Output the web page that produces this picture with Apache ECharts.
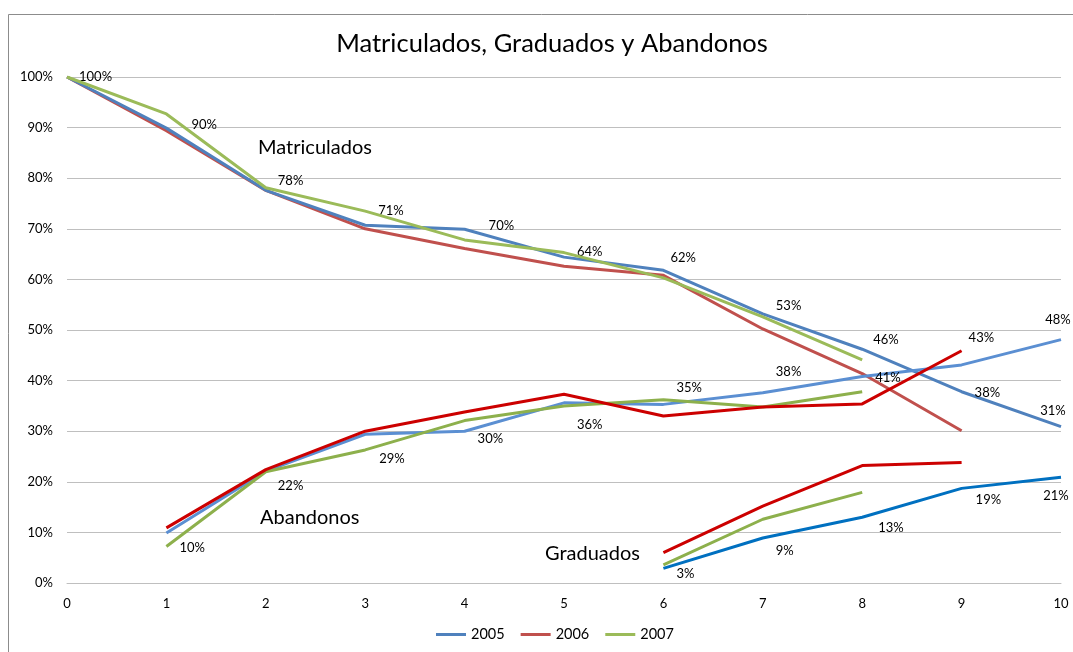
<!DOCTYPE html>
<html>
<head>
<meta charset="utf-8">
<script src="https://cdn.jsdelivr.net/npm/echarts@6/dist/echarts.min.js"></script>
<style>html,body{margin:0;padding:0;background:#fff;}#c{width:1073px;height:652px;}</style>
</head>
<body>
<div id="c"></div>
<script>
// ---- data ----
const xValues = [0, 1, 2, 3, 4, 5, 6, 7, 8, 9, 10];
const yTicks = [0, 10, 20, 30, 40, 50, 60, 70, 80, 90, 100];
const legendNames = ['2005', '2006', '2007'];
const matriculados2005 = [100, 89.9, 77.6, 70.7, 69.9, 64.4, 61.8, 53.2, 46.2, 37.8, 30.9];
const matriculados2006 = [100, 89.4, 77.6, 70.0, 66.1, 62.6, 60.8, 50.2, 41.4, 30.1, null];
const matriculados2007 = [100, 92.7, 78.1, 73.5, 67.8, 65.3, 60.3, 52.6, 44.1, null, null];
const abandonos2005 = [null, 9.9, 22.1, 29.4, 30.0, 35.6, 35.3, 37.6, 40.8, 43.1, 48.1];
const abandonos2006 = [null, 10.9, 22.4, 30.0, 33.8, 37.3, 33.0, 34.8, 35.4, 45.9, null];
const abandonos2007 = [null, 7.2, 22.0, 26.3, 32.1, 35.0, 36.2, 34.8, 37.8, null, null];
const graduados2005 = [null, null, null, null, null, null, 2.9, 8.9, 13.0, 18.7, 20.9];
const graduados2006 = [null, null, null, null, null, null, 6.0, 15.2, 23.2, 23.8, null];
const graduados2007 = [null, null, null, null, null, null, 3.6, 12.6, 17.9, null, null];

// ---- label layout (mode, dx, dy) : r = right of point, c = centred on point ----
const matLabelLayout = [['r',12,0],['r',25,-3],['r',12,-10],['r',13,-14],['r',24,-3],['r',13,-5],['r',7,-12],['r',13,-8],['r',11,-9],['r',13,1],['c',-8,-16]];
const abaLabelLayout = [null,['r',13,15],['r',12,15],['r',14,25],['r',13,8],['r',13,22],['r',13,-17],['r',13,-21],['r',13,1],['r',7,-27],['c',-3,-20]];
const graLabelLayout = [null,null,null,null,null,null,['r',13,5],['r',13,13],['r',16,11],['r',14,11],['c',-5,19]];

const FONT = 'Lato, "Open Sans", sans-serif';

function build(values, layout) {
  const out = [];
  values.forEach(function (v, i) {
    if (v === null) return;
    const item = { value: [xValues[i], v] };
    if (layout && layout[i]) {
      const L = layout[i];
      item.label = {
        show: true,
        position: L[0] === 'r' ? 'right' : 'inside',
        distance: 0,
        offset: [L[1], L[2]],
        formatter: Math.round(v) + '%',
        color: '#000',
        fontSize: 13,
        fontFamily: FONT
      };
    }
    out.push(item);
  });
  return out;
}

function line(name, color, values, layout, z) {
  return {
    name: name,
    type: 'line',
    data: build(values, layout),
    symbol: 'circle',
    symbolSize: 0.01,
    showSymbol: true,
    itemStyle: { color: color },
    lineStyle: { color: color, width: 3 },
    label: { show: false },
    emphasis: { disabled: true },
    silent: true,
    animation: false,
    z: z || 2
  };
}

const chart = echarts.init(document.getElementById('c'), null, { renderer: 'canvas' });
chart.setOption({
  backgroundColor: '#fff',
  animation: false,
  title: {
    text: 'Matriculados, Graduados y Abandonos',
    left: 547,
    top: 26,
    textAlign: 'center',
    textStyle: { fontFamily: FONT, fontSize: 25.5, fontWeight: 'normal', color: '#000' }
  },
  legend: {
    data: legendNames,
    left: 436,
    top: 627,
    padding: 0,
    icon: 'rect',
    itemWidth: 30,
    itemHeight: 3,
    itemGap: 16,
    textStyle: { fontFamily: FONT, fontSize: 14.5, color: '#000' }
  },
  grid: { left: 67, right: 12, top: 77, bottom: 69 },
  xAxis: {
    type: 'value',
    min: 0, max: 10, interval: 1,
    axisLine: { show: true, lineStyle: { color: '#bfbfbf', width: 1 } },
    axisTick: { show: false },
    splitLine: { show: false },
    axisLabel: { color: '#000', fontSize: 13, fontFamily: FONT, margin: 14 }
  },
  yAxis: {
    type: 'value',
    min: yTicks[0], max: yTicks[yTicks.length - 1], interval: 10,
    axisLine: { show: false },
    axisTick: { show: false },
    splitLine: { lineStyle: { color: '#bfbfbf', width: 1 } },
    axisLabel: { color: '#000', fontSize: 13, fontFamily: FONT, margin: 14, formatter: '{value}%' }
  },
  graphic: [
    { type: 'rect', shape: { x: 8.5, y: 14.5, width: 1200, height: 800 }, style: { fill: 'none', stroke: '#8c8c8c', lineWidth: 1 }, silent: true, z: -1 },
    { type: 'text', left: 258, top: 138, style: { text: 'Matriculados', fontFamily: FONT, fontSize: 20, fill: '#000' } },
    { type: 'text', left: 260, top: 508, style: { text: 'Abandonos', fontFamily: FONT, fontSize: 20, fill: '#000' } },
    { type: 'text', left: 545, top: 544, style: { text: 'Graduados', fontFamily: FONT, fontSize: 20, fill: '#000' } }
  ],
  series: [
    line('2006', '#C0504D', matriculados2006, null, 2),
    line('2005', '#4F81BD', matriculados2005, matLabelLayout, 3),
    line('2007', '#9BBB59', matriculados2007, null, 4),
    line('Abandonos 2005', '#5B8FD2', abandonos2005, abaLabelLayout, 3),
    line('Abandonos 2007', '#8DB04C', abandonos2007, null, 4),
    line('Abandonos 2006', '#CC0000', abandonos2006, null, 5),
    line('Graduados 2005', '#0070C0', graduados2005, graLabelLayout, 3),
    line('Graduados 2006', '#CC0000', graduados2006, null, 4),
    line('Graduados 2007', '#8DB04C', graduados2007, null, 5)
  ]
});
</script>
</body>
</html>
